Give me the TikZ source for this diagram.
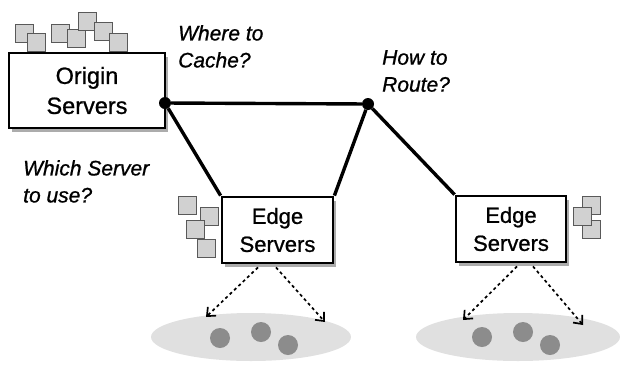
\documentclass[tikz,border=0pt]{standalone}
\usepackage{fontspec}
\setmainfont{Liberation Sans}
\newfontfamily\heavyfont{Liberation Sans}[FakeBold=0.9]
\usetikzlibrary{shadows,arrows.meta,shapes.geometric}
\begin{document}
\begin{tikzpicture}[x=1pt,y=-1pt]
\tikzstyle{every node}+=[inner sep=0pt]
\tikzstyle{server}=[draw=black,line width=2.8pt,fill=white,align=center,font=\heavyfont\fontsize{22}{28}\selectfont,drop shadow={shadow xshift=2.5pt,shadow yshift=-3.5pt,opacity=0.65}]
\tikzstyle{item}=[draw=black!65,fill=black!18,line width=1pt,minimum size=18pt]
\tikzstyle{hub}=[circle,fill=black,minimum size=12pt]
\tikzstyle{link}=[line width=3.4pt]
\tikzstyle{request}=[dashed,line width=1.7pt,-{Straight Barb[length=7pt,width=12pt]}]
\tikzstyle{cloud}=[ellipse,fill=black!12]
\tikzstyle{user}=[circle,fill=black!45,minimum size=20pt]
\tikzstyle{question}=[align=left,anchor=north west,font=\heavyfont\itshape\fontsize{21}{27}\selectfont]
\useasboundingbox (0,0) rectangle (629,365);
\node[cloud,minimum width=200pt,minimum height=48pt] (users1) at (251,337) {};
\node[cloud,minimum width=204pt,minimum height=48pt] (users2) at (518,337) {};
\node[user] (u1) at (220,338) {};
\node[user] (u2) at (261,332) {};
\node[user] (u3) at (288,345) {};
\node[user] (u4) at (482,337) {};
\node[user] (u5) at (523,332) {};
\node[user] (u6) at (550,345) {};
\node[item] (c1) at (24.5,33.5) {};
\node[item] (c2) at (36.5,42.5) {};
\node[item] (c3) at (60.5,33.5) {};
\node[item] (c4) at (76.5,38) {};
\node[item] (c5) at (87,21.5) {};
\node[item] (c6) at (103,31) {};
\node[item] (c7) at (118,42.5) {};
\node[item] (c8) at (187.5,205.5) {};
\node[item] (c9) at (209,216.5) {};
\node[item] (c10) at (195,229.5) {};
\node[item] (c11) at (206,248) {};
\node[item] (c12) at (591,205) {};
\node[item] (c13) at (591,229) {};
\node[item] (c14) at (582.5,216) {};
\node[server,minimum width=156pt,minimum height=75pt,font=\heavyfont\fontsize{23.5}{30}\selectfont] (origin) at (87,90.5) {Origin\\Servers};
\node[server,minimum width=111pt,minimum height=66pt] (edge1) at (277.5,230) {Edge\\Servers};
\node[server,minimum width=110pt,minimum height=66pt] (edge2) at (511,229) {Edge\\Servers};
\node[hub] (j1) at (165,103) {};
\node[hub] (j2) at (368,104) {};
\draw[link] (j1) -- (j2);
\draw[link] (j1) -- (edge1.north west);
\draw[link] (j2) -- (edge1.north east);
\draw[link] (j2) -- (edge2.north west);
\coordinate (t1) at (206,317);
\coordinate (t2) at (325,322);
\coordinate (t3) at (463,320);
\coordinate (t4) at (583,325);
\draw[request] ([shift={(-19.5,3)}]edge1.south) -- (t1);
\draw[request] ([shift={(-1.5,3)}]edge1.south) -- (t2);
\draw[request] ([shift={(6,3)}]edge2.south) -- (t3);
\draw[request] ([shift={(22,3)}]edge2.south) -- (t4);
\node[question] (where) at (178,25) {Where to\\Cache?};
\node[question] (how) at (382,50) {How to\\Route?};
\node[question] (which) at (23,160) {Which Server\\to use?};
\end{tikzpicture}
\end{document}
